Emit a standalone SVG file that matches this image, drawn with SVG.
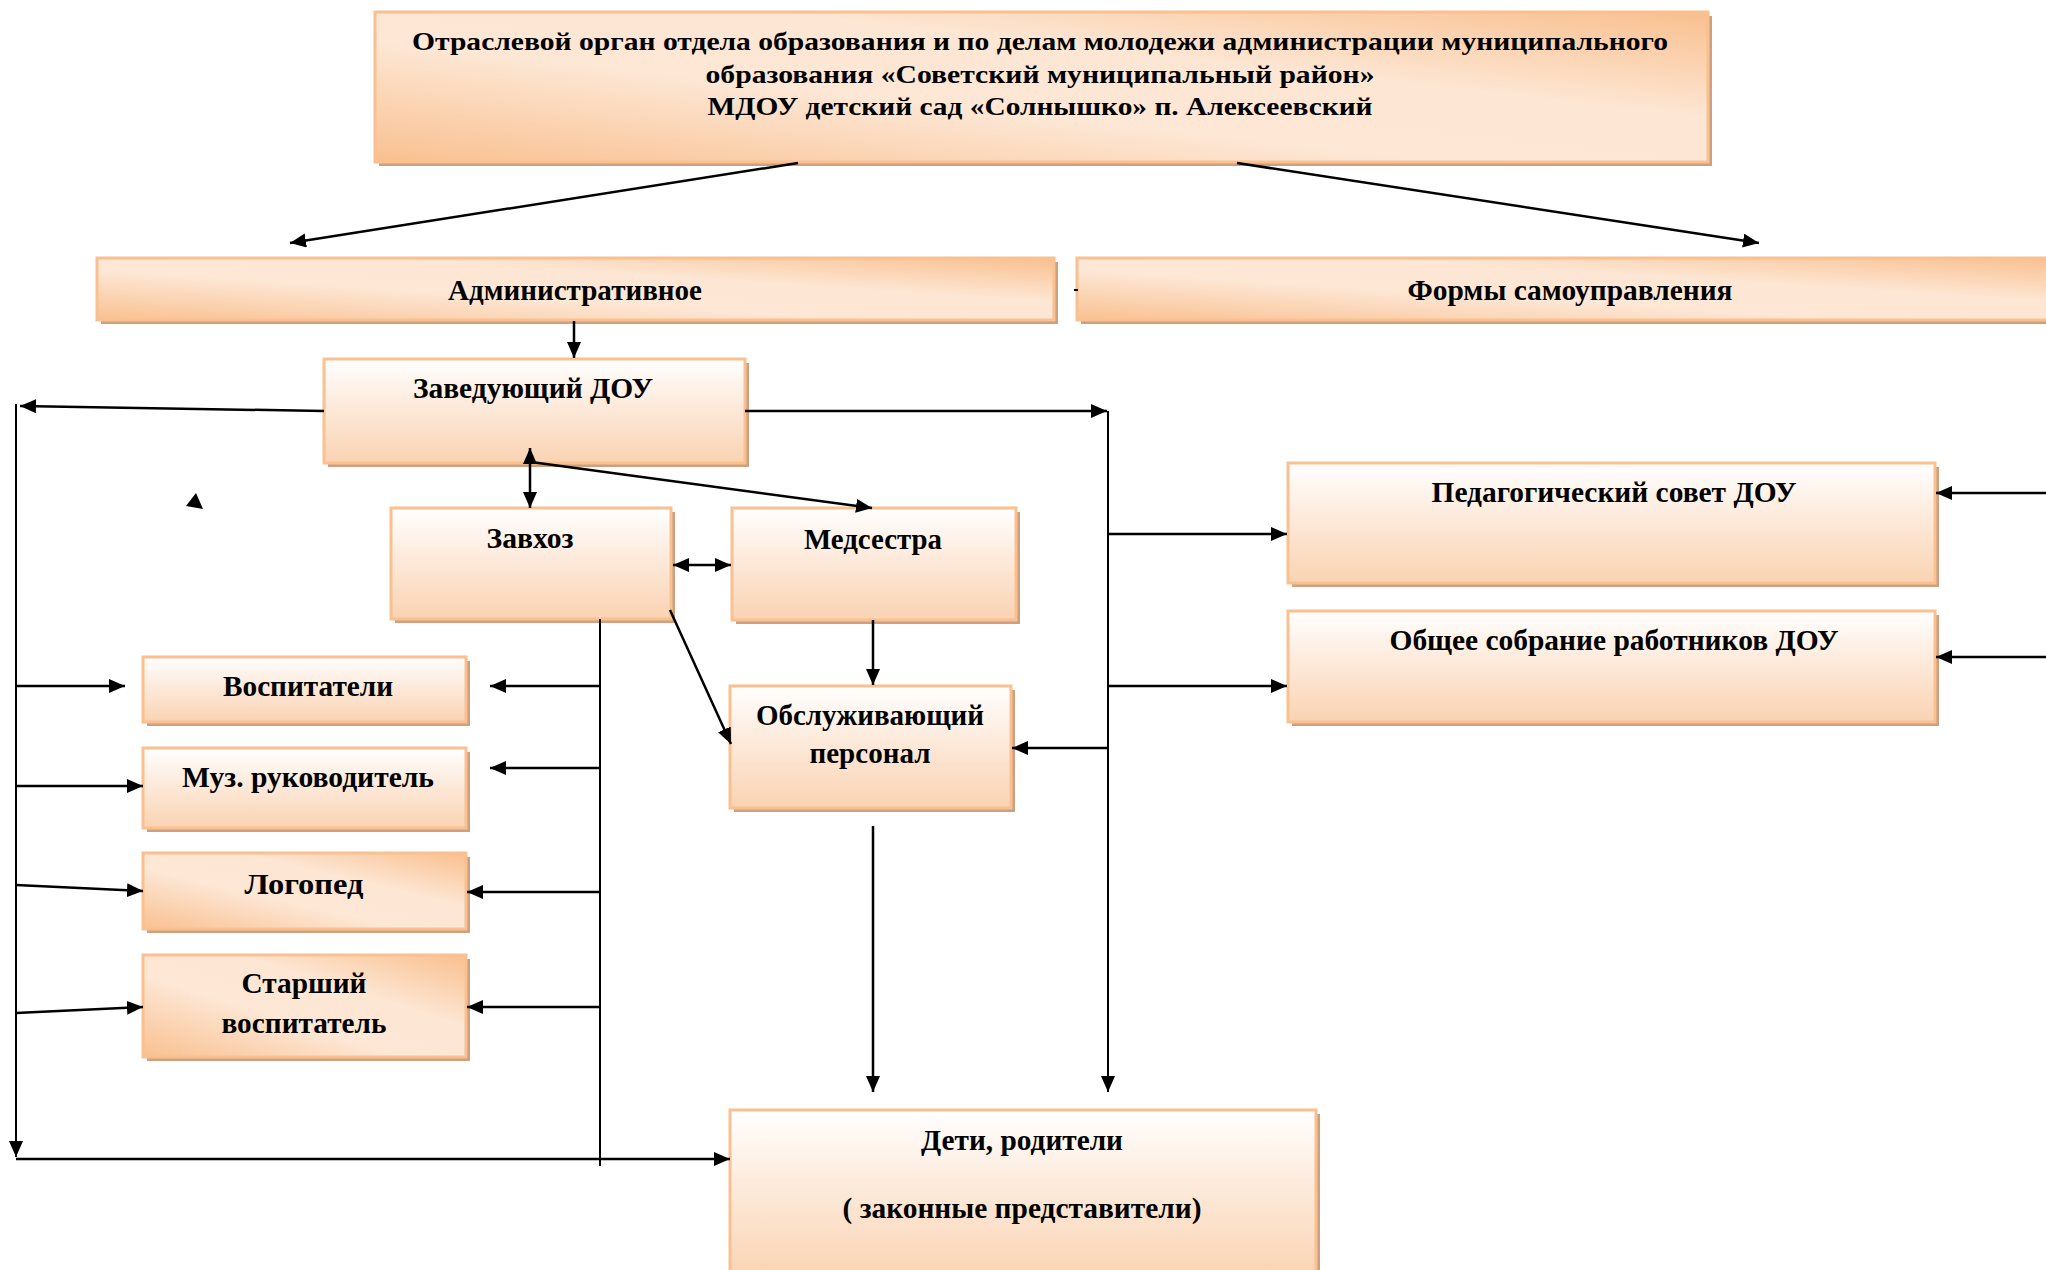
<svg xmlns="http://www.w3.org/2000/svg" width="2046" height="1270" viewBox="0 0 2046 1270">
<defs>
<linearGradient id="gv" x1="0" y1="0" x2="0" y2="1">
<stop offset="0" stop-color="#ffffff"/>
<stop offset="0.45" stop-color="#fdeadb"/>
<stop offset="1" stop-color="#fad3b2"/>
</linearGradient>
<linearGradient id="gd" x1="0" y1="1" x2="1" y2="0">
<stop offset="0" stop-color="#f9c090"/>
<stop offset="0.4" stop-color="#fde7d5"/>
<stop offset="0.65" stop-color="#fde6d3"/>
<stop offset="1" stop-color="#f9bf8e"/>
</linearGradient>
<marker id="ah" markerUnits="userSpaceOnUse" markerWidth="17" markerHeight="15" refX="16" refY="7" orient="auto-start-reverse" viewBox="0 0 17 15">
<path d="M0,0 L16,7 L0,14 z" fill="#000"/>
</marker>
</defs>
<style>
.sh{fill:#cda17f}
.bx{stroke:#fac090;stroke-width:3}
.v{fill:url(#gv)}
.d{fill:url(#gd)}
text{font-family:"Liberation Serif","Times New Roman",serif;font-weight:bold;fill:#000;text-anchor:middle}
.t{font-size:29px}
.tt{font-size:26px}
.c line,.c polyline{stroke:#000;stroke-width:2.5;fill:none}
.c .a{marker-end:url(#ah)}
.c .b{marker-start:url(#ah);marker-end:url(#ah)}
.c .tr{stroke-width:2}
</style>
<rect width="2046" height="1270" fill="#fff"/>

<g id="top">
<rect class="sh" x="379" y="16" width="1333" height="150"/>
<rect class="bx d" x="375" y="12" width="1333" height="150"/>
<text class="tt" x="1040" y="50" textLength="1256" lengthAdjust="spacingAndGlyphs">Отраслевой орган отдела образования и по делам  молодежи администрации муниципального</text>
<text class="tt" x="1040" y="83" textLength="669" lengthAdjust="spacingAndGlyphs">образования  «Советский муниципальный район»</text>
<text class="tt" x="1040" y="115" textLength="665" lengthAdjust="spacingAndGlyphs">МДОУ детский сад «Солнышко» п. Алексеевский</text>
</g>

<g id="admin">
<rect class="sh" x="101" y="262" width="957" height="62"/>
<rect class="bx d" x="97" y="258" width="957" height="62"/>
<text class="t" x="575" y="300" textLength="254" lengthAdjust="spacingAndGlyphs">Административное</text>
</g>

<g id="forms">
<rect class="sh" x="1081" y="262" width="980" height="62"/>
<rect class="bx d" x="1077" y="258" width="980" height="62"/>
<text class="t" x="1570" y="300" textLength="325" lengthAdjust="spacingAndGlyphs">Формы самоуправления</text>
</g>

<g id="zav">
<rect class="sh" x="328" y="363" width="421" height="104"/>
<rect class="bx v" x="324" y="359" width="421" height="104"/>
<text class="t" x="533" y="398" textLength="240" lengthAdjust="spacingAndGlyphs">Заведующий ДОУ</text>
</g>

<g id="zavhoz">
<rect class="sh" x="395" y="512" width="280" height="111"/>
<rect class="bx v" x="391" y="508" width="280" height="111"/>
<text class="t" x="530" y="548" textLength="87" lengthAdjust="spacingAndGlyphs">Завхоз</text>
</g>

<g id="med">
<rect class="sh" x="736" y="512" width="284" height="112"/>
<rect class="bx v" x="732" y="508" width="284" height="112"/>
<text class="t" x="873" y="549" textLength="138" lengthAdjust="spacingAndGlyphs">Медсестра</text>
</g>

<g id="obsl">
<rect class="sh" x="734" y="690" width="281" height="122"/>
<rect class="bx v" x="730" y="686" width="281" height="122"/>
<text class="t" x="870" y="725" textLength="228" lengthAdjust="spacingAndGlyphs">Обслуживающий</text>
<text class="t" x="870" y="763" textLength="121" lengthAdjust="spacingAndGlyphs">персонал</text>
</g>

<g id="ped">
<rect class="sh" x="1292" y="467" width="647" height="120"/>
<rect class="bx v" x="1288" y="463" width="647" height="120"/>
<text class="t" x="1614" y="502" textLength="365" lengthAdjust="spacingAndGlyphs">Педагогический совет ДОУ</text>
</g>

<g id="obsh">
<rect class="sh" x="1292" y="615" width="647" height="111"/>
<rect class="bx v" x="1288" y="611" width="647" height="111"/>
<text class="t" x="1614" y="650" textLength="449" lengthAdjust="spacingAndGlyphs">Общее собрание работников ДОУ</text>
</g>

<g id="vosp">
<rect class="sh" x="147" y="661" width="323" height="65"/>
<rect class="bx v" x="143" y="657" width="323" height="65"/>
<text class="t" x="308" y="696" textLength="170" lengthAdjust="spacingAndGlyphs">Воспитатели</text>
</g>

<g id="muz">
<rect class="sh" x="147" y="752" width="323" height="80"/>
<rect class="bx v" x="143" y="748" width="323" height="80"/>
<text class="t" x="308" y="787" textLength="252" lengthAdjust="spacingAndGlyphs">Муз. руководитель</text>
</g>

<g id="logo">
<rect class="sh" x="147" y="857" width="323" height="76"/>
<rect class="bx d" x="143" y="853" width="323" height="76"/>
<text class="t" x="304" y="894" textLength="119" lengthAdjust="spacingAndGlyphs">Логопед</text>
</g>

<g id="star">
<rect class="sh" x="147" y="959" width="323" height="102"/>
<rect class="bx d" x="143" y="955" width="323" height="102"/>
<text class="t" x="304" y="993" textLength="125" lengthAdjust="spacingAndGlyphs">Старший</text>
<text class="t" x="304" y="1033" textLength="165" lengthAdjust="spacingAndGlyphs">воспитатель</text>
</g>

<g id="deti">
<rect class="sh" x="734" y="1114" width="586" height="170"/>
<rect class="bx v" x="730" y="1110" width="586" height="170"/>
<text class="t" x="1022" y="1150" textLength="202" lengthAdjust="spacingAndGlyphs">Дети, родители</text>
<text class="t" x="1022" y="1218" textLength="359" lengthAdjust="spacingAndGlyphs">( законные представители)</text>
</g>

<g id="connectors" class="c">
<line class="a" x1="798" y1="163" x2="290" y2="243"/>
<line class="a" x1="1237" y1="163" x2="1759" y2="243"/>
<line class="a" x1="574" y1="321" x2="574" y2="358"/>
<line class="a" x1="324" y1="411" x2="20" y2="406"/>
<line class="tr" x1="16" y1="404" x2="16" y2="1140"/>
<line class="a tr" x1="16" y1="1130" x2="16" y2="1157"/>
<line class="a" x1="17" y1="686" x2="125" y2="686"/>
<line class="a" x1="17" y1="786" x2="143" y2="786"/>
<line class="a" x1="16" y1="885" x2="143" y2="891"/>
<line class="a" x1="16" y1="1013" x2="143" y2="1007"/>
<line class="a" x1="16" y1="1159" x2="730" y2="1159"/>
<line class="a" x1="745" y1="411" x2="1107" y2="411"/>
<line class="tr" x1="1108" y1="411" x2="1108" y2="1080"/>
<line class="a tr" x1="1108" y1="1070" x2="1108" y2="1092"/>
<line class="a" x1="1108" y1="534" x2="1287" y2="534"/>
<line class="a" x1="1108" y1="686" x2="1287" y2="686"/>
<line class="a" x1="1108" y1="748" x2="1012" y2="748"/>
<line class="a" x1="2046" y1="493" x2="1936" y2="493"/>
<line class="a" x1="2046" y1="657" x2="1936" y2="657"/>
<line class="b" x1="530" y1="448" x2="530" y2="508"/>
<line class="a" x1="531" y1="462" x2="872" y2="508"/>
<line class="b" x1="673" y1="565" x2="731" y2="565"/>
<line class="a" x1="873" y1="620" x2="873" y2="685"/>
<line class="a" x1="670" y1="610" x2="731" y2="744"/>
<line class="tr" x1="600" y1="619" x2="600" y2="1166"/>
<line class="a" x1="600" y1="686" x2="490" y2="686"/>
<line class="a" x1="600" y1="768" x2="490" y2="768"/>
<line class="a" x1="600" y1="892" x2="467" y2="892"/>
<line class="a" x1="600" y1="1007" x2="467" y2="1007"/>
<line class="a" x1="873" y1="826" x2="873" y2="1092"/>
<polygon points="196,493 186,506 203,509" fill="#000"/>
<line x1="1074" y1="290" x2="1078" y2="290" style="stroke-width:2"/>
</g>
</svg>
